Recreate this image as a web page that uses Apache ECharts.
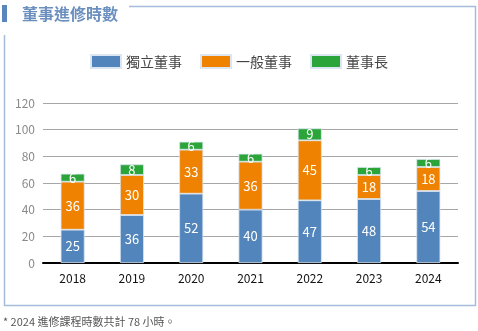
<!DOCTYPE html>
<html>
<head>
<meta charset="utf-8">
<script src="https://cdn.jsdelivr.net/npm/echarts@6/dist/echarts.min.js"></script>
<style>
html,body{margin:0;padding:0;background:#fff;}
#chart{width:478px;height:331px;}
</style>
</head>
<body>
<div id="chart"></div>
<script>
// Director training hours by year
const years = ['2018', '2019', '2020', '2021', '2022', '2023', '2024'];
const independentDirectors = [25, 36, 52, 40, 47, 48, 54];
const generalDirectors = [36, 30, 33, 36, 45, 18, 18];
const chairman = [6, 8, 6, 6, 9, 6, 6];
const yTicks = [0, 20, 40, 60, 80, 100, 120];

const FONT = '"Noto Sans CJK TC", "Noto Sans", sans-serif';
const chart = echarts.init(document.getElementById('chart'));

const segLabel = {
  show: true,
  position: 'inside',
  color: '#ffffff',
  fontSize: 13,
  fontFamily: FONT
};
const segBorder = { borderColor: '#dbe6f2', borderWidth: 0.8 };

function barSeries(name, data, color) {
  return {
    name: name,
    type: 'bar',
    stack: 'total',
    barWidth: 24,
    data: data,
    itemStyle: Object.assign({ color: color }, segBorder),
    label: segLabel
  };
}

chart.setOption({
  animation: false,
  textStyle: { fontFamily: FONT },
  legend: {
    top: 49,
    left: 'center',
    icon: 'rect',
    itemWidth: 30,
    itemHeight: 13,
    itemGap: 18,
    textStyle: { fontSize: 14, color: '#444', fontFamily: FONT },
    data: ['獨立董事', '一般董事', '董事長']
  },
  grid: { left: 43, right: 20, top: 103, bottom: 68 },
  xAxis: {
    type: 'category',
    data: years,
    axisTick: { show: false },
    axisLine: { lineStyle: { color: '#000', width: 2 } },
    axisLabel: { color: '#111', fontSize: 12, margin: 9, fontFamily: FONT }
  },
  yAxis: {
    type: 'value',
    min: yTicks[0],
    max: yTicks[yTicks.length - 1],
    interval: 20,
    axisLine: { show: false },
    axisTick: { show: false },
    axisLabel: { color: '#8a8a8a', fontSize: 12, margin: 8, fontFamily: FONT },
    splitLine: { lineStyle: { color: '#a6a6a6', width: 1 } }
  },
  series: [
    barSeries('獨立董事', independentDirectors, '#5285bb'),
    barSeries('一般董事', generalDirectors, '#ef8200'),
    barSeries('董事長', chairman, '#2ba53a')
  ],
  graphic: [
    // title marker and heading
    { type: 'rect', left: 2, top: 5, shape: { width: 5, height: 17 }, style: { fill: '#5a86bd' } },
    { type: 'text', left: 22, top: 6, style: { text: '董事進修時數', fill: '#6b8fbf', font: 'bold 16px ' + FONT } },
    // frame around the chart area
    { type: 'polyline', shape: { points: [[129, 6.5], [475.5, 6.5], [475.5, 305.5], [4.5, 305.5], [4.5, 35]] },
      style: { stroke: '#a5bcdb', lineWidth: 1.5, fill: null } },
    // footnote
    { type: 'text', left: 3, top: 316, style: { text: '* 2024 進修課程時數共計 78 小時。', fill: '#555', font: '11px ' + FONT } }
  ]
});
</script>
</body>
</html>
